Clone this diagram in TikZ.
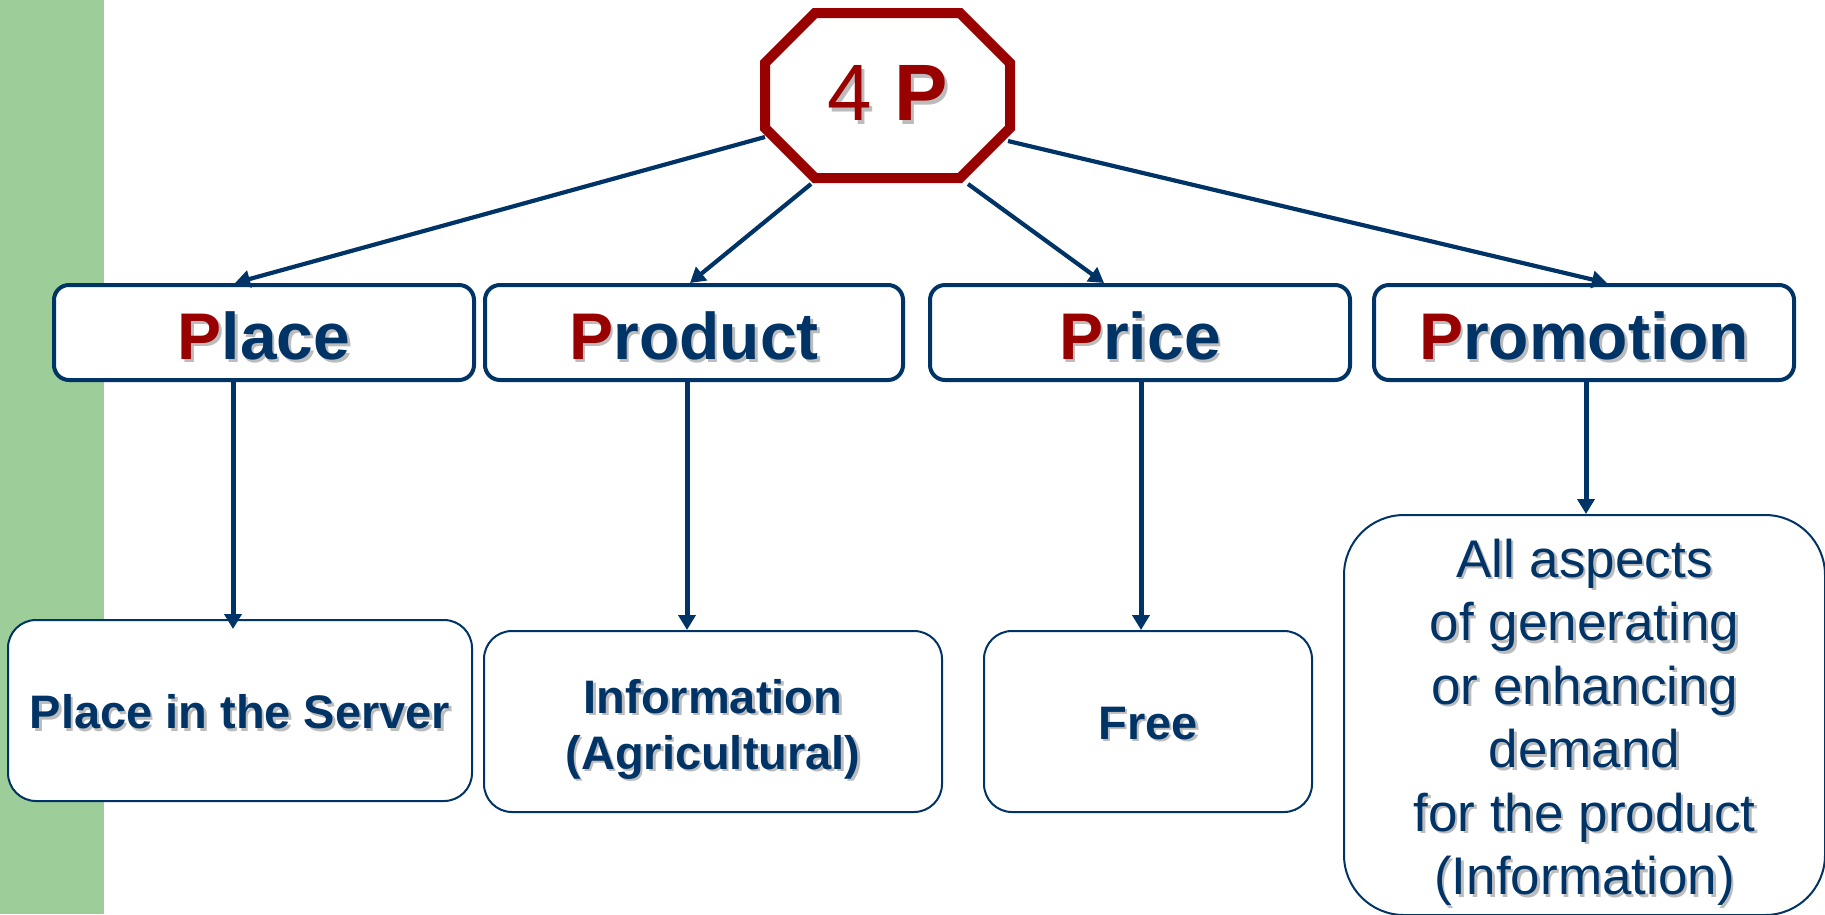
\documentclass[tikz,border=0pt]{standalone}
\usepackage{fontspec}
\setmainfont{Liberation Sans}
\usetikzlibrary{arrows.meta}
\definecolor{navy}{RGB}{0,51,102}
\definecolor{dred}{RGB}{153,0,0}
\definecolor{shgray}{RGB}{188,188,188}
\definecolor{barg}{RGB}{157,205,152}
\newlength\shoff \setlength\shoff{2.5pt}
\def\pcol{dred}
\newcommand\RP{\textcolor{\pcol}{P}}
\newcommand\shd[1]{\rlap{\kern\shoff\raisebox{-\shoff}{\def\pcol{shgray}\color{shgray}#1}}#1}
\begin{document}
\begin{tikzpicture}[x=1pt,y=-1pt,
  topbox/.style={draw=navy, line width=4pt, rounded corners=15pt, fill=white,
    minimum width=420pt, minimum height=95pt, inner sep=0pt, text=navy,
    text height=54pt, text depth=0pt,
    font=\fontsize{66}{72}\selectfont\bfseries},
  botbox/.style={draw=navy, line width=2pt, rounded corners=28pt, fill=white, inner sep=0pt},
  bottxt/.style={text=navy, inner sep=0pt, align=center, font=\fontsize{47}{56}\selectfont\bfseries},
  promotxt/.style={text=navy, inner sep=0pt, align=center, font=\fontsize{53}{63.5}\selectfont},
  conn/.style={draw=navy, line width=4.2pt, -{Triangle[length=15pt,width=17pt]}},
  vconn/.style={conn, line width=5pt},
  octline/.style={draw=dred, line width=10pt, fill=white, line join=miter}
]
\useasboundingbox (0,0) rectangle (1825,914);
\fill[barg] (0,0) rectangle (104,914);

% top row
\node[topbox] (place) at (264,332.5) {\shd{\RP lace}};
\node[topbox, minimum width=418pt] (product) at (694,332.5) {\shd{\RP roduct}};
\node[topbox] (price) at (1140,332.5) {\shd{\RP rice}};
\node[topbox] (promotion) at (1584,332.5) {\shd{\RP romotion}};

% bottom row
\node[botbox, minimum width=464pt, minimum height=181pt] (server) at (240,710.5) {};
\node[bottxt] (servertxt) at ([yshift=-2.5pt]server.center) {\shd{Place in the Server}};
\node[botbox, minimum width=458pt, minimum height=181pt] (info) at (713,721.5) {};
\node[bottxt] (infotxt) at ([yshift=-9pt]info.center) {\shd{Information}\\\shd{(Agricultural)}};
\node[botbox, minimum width=328pt, minimum height=181pt] (free) at (1148,721.5) {};
\node[bottxt] (freetxt) at ([yshift=-3pt]free.center) {\shd{Free}};
\node[botbox, rounded corners=60pt, minimum width=481pt, minimum height=400pt] (promo) at (1584.5,715) {};
\node[promotxt] (promotxt) at ([yshift=-8.5pt]promo.center)
  {\shd{All aspects}\\\shd{of generating}\\\shd{or enhancing}\\\shd{demand}\\\shd{for the product}\\\shd{(Information)}};

% octagon frame (anchor node)
\node[minimum width=245pt, minimum height=165pt, inner sep=0pt, outer sep=0pt] (fourp) at (887.5,95.5) {};

% connectors
\draw[conn] ([yshift=-41.5pt]fourp.west) -- ([xshift=-29pt]place.north);
\draw[conn] ([xshift=-76.5pt,yshift=-6pt]fourp.south) -- ([xshift=-4pt]product.north);
\draw[conn] ([xshift=80.5pt,yshift=-6pt]fourp.south) -- ([xshift=-36pt]price.north);
\draw[conn] ([xshift=-2pt,yshift=-45.5pt]fourp.east) -- ([xshift=23pt]promotion.north);

\draw[vconn] ([xshift=-31pt]place.south) -- ([xshift=-7pt,yshift=-10pt]server.north);
\draw[vconn] ([xshift=-7pt]product.south) -- ([xshift=-26pt]info.north);
\draw[vconn] ([xshift=1pt]price.south) -- ([xshift=-7pt]free.north);
\draw[vconn] ([xshift=2pt]promotion.south) -- ([xshift=1.5pt]promo.north);

% octagon
\draw[octline] ([xshift=50pt]fourp.north west) -- ([xshift=-50pt]fourp.north east)
  -- ([yshift=-50pt]fourp.north east) -- ([yshift=50pt]fourp.south east)
  -- ([xshift=-50pt]fourp.south east) -- ([xshift=50pt]fourp.south west)
  -- ([yshift=50pt]fourp.south west) -- ([yshift=-50pt]fourp.north west) -- cycle;
\node[text=dred, inner sep=0pt, font=\fontsize{80}{90}\selectfont] (fourptxt) at ([yshift=0.5pt]fourp.center)
  {\setlength\shoff{3.5pt}\shd{4 \textbf{P}}};
\end{tikzpicture}
\end{document}
